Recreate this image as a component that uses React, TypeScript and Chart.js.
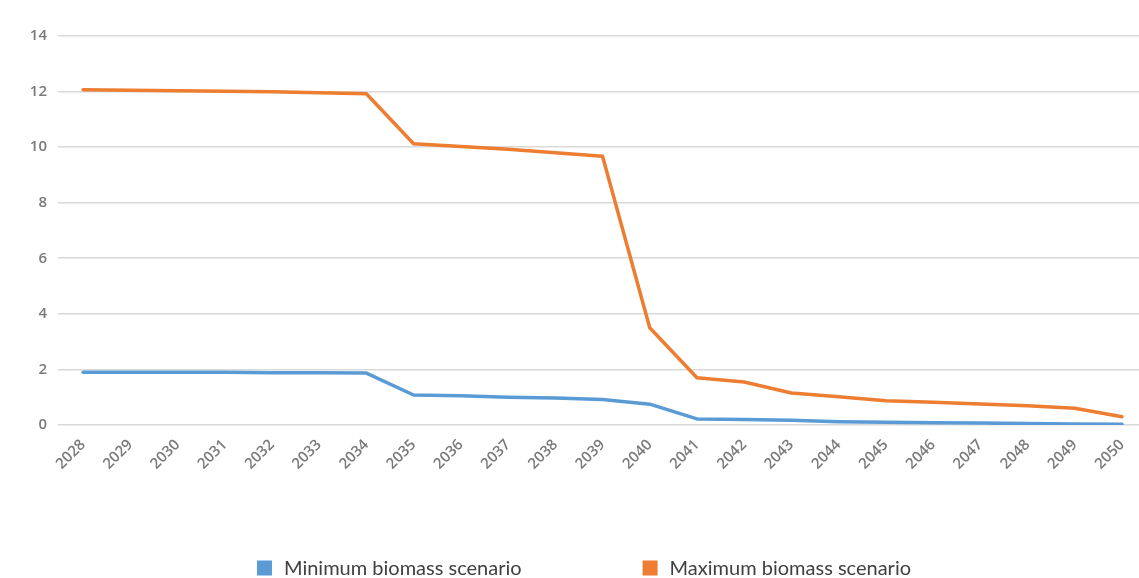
import React, { useEffect, useRef } from "react";
import { Chart, registerables, Plugin } from "chart.js";

Chart.register(...registerables);

// Years on the horizontal axis
const years: number[] = [
  2028, 2029, 2030, 2031, 2032, 2033, 2034, 2035, 2036, 2037, 2038, 2039,
  2040, 2041, 2042, 2043, 2044, 2045, 2046, 2047, 2048, 2049, 2050,
];

// Minimum biomass scenario
const minScenario: number[] = [
  1.9, 1.9, 1.9, 1.9, 1.88, 1.88, 1.87, 1.08, 1.05, 1.0, 0.97, 0.92,
  0.75, 0.22, 0.2, 0.17, 0.12, 0.1, 0.08, 0.07, 0.05, 0.04, 0.03,
];

// Maximum biomass scenario
const maxScenario: number[] = [
  12.07, 12.05, 12.03, 12.01, 11.99, 11.96, 11.92, 10.12, 10.02, 9.92, 9.8, 9.67,
  3.5, 1.7, 1.55, 1.15, 1.02, 0.87, 0.82, 0.76, 0.69, 0.6, 0.3,
];

const seriesNames: string[] = ["Minimum biomass scenario", "Maximum biomass scenario"];
const seriesColors: string[] = ["#5B9BD5", "#ED7D31"];

const yTicks: number[] = [0, 2, 4, 6, 8, 10, 12, 14];

const LEGEND_FONT = "20px Lato";

// Legend drawn under the plot: two square swatches with their labels
const bottomLegend: Plugin<"line"> = {
  id: "bottomLegend",
  afterDraw(chart) {
    const ctx = chart.ctx;
    ctx.save();
    ctx.font = LEGEND_FONT;
    ctx.textBaseline = "middle";
    ctx.textAlign = "left";
    const box = 15;
    const boxGap = 12;
    const itemGap = 121;
    const widths = chart.data.datasets.map((d) => box + boxGap + ctx.measureText(String(d.label)).width);
    const total = widths.reduce((a, b) => a + b, 0) + itemGap * (widths.length - 1);
    let x = 584 - total / 2;
    const y = 568;
    chart.data.datasets.forEach((d, i) => {
      ctx.fillStyle = String(d.borderColor);
      ctx.fillRect(x, y - box / 2, box, box);
      ctx.fillStyle = "#404040";
      ctx.fillText(String(d.label), x + box + boxGap, y + 1);
      x += widths[i] + itemGap;
    });
    ctx.restore();
  },
};

export default function App() {
  const canvasRef = useRef<HTMLCanvasElement | null>(null);

  useEffect(() => {
    if (!canvasRef.current) return;
    const chart = new Chart(canvasRef.current, {
      type: "line",
      data: {
        datasets: [
          {
            label: seriesNames[0],
            data: years.map((yr, i) => ({ x: yr, y: minScenario[i] })),
            borderColor: seriesColors[0],
            backgroundColor: seriesColors[0],
            borderWidth: 3.5,
            pointRadius: 0,
            tension: 0,
            borderJoinStyle: "round",
            borderCapStyle: "round",
          },
          {
            label: seriesNames[1],
            data: years.map((yr, i) => ({ x: yr, y: maxScenario[i] })),
            borderColor: seriesColors[1],
            backgroundColor: seriesColors[1],
            borderWidth: 3.5,
            pointRadius: 0,
            tension: 0,
            borderJoinStyle: "round",
            borderCapStyle: "round",
          },
        ],
      },
      options: {
        animation: false,
        responsive: true,
        maintainAspectRatio: false,
        layout: { padding: { top: 36, right: 0, bottom: 0, left: 0 } },
        plugins: {
          legend: { display: false },
          tooltip: { enabled: false },
        },
        scales: {
          x: {
            type: "linear",
            min: 2027.47,
            max: 2050.36,
            grid: { display: false },
            border: { display: false },
            ticks: {
              stepSize: 1,
              includeBounds: false,
              autoSkip: false,
              minRotation: 45,
              maxRotation: 45,
              padding: 3,
              color: "#7a7a7a",
              font: { family: "Open Sans", size: 15, weight: 600 },
              callback: (v) => String(v),
            },
            afterFit: (scale) => {
              scale.height = 153;
            },
          },
          y: {
            min: 0,
            max: 14,
            afterBuildTicks: (scale) => {
              scale.ticks = yTicks.map((v) => ({ value: v }));
            },
            grid: { color: "#d9d9d9", lineWidth: 1.6, drawTicks: false },
            border: { display: false },
            ticks: {
              padding: 11,
              color: "#7a7a7a",
              font: { family: "Open Sans", size: 15, weight: 600 },
            },
            afterFit: (scale) => {
              scale.width = 58;
            },
          },
        },
      },
      plugins: [bottomLegend],
    });
    return () => chart.destroy();
  }, []);

  return (
    <div style={{ position: "absolute", left: 0, top: 0, width: 1139, height: 578, background: "#ffffff" }}>
      <canvas ref={canvasRef} />
    </div>
  );
}
